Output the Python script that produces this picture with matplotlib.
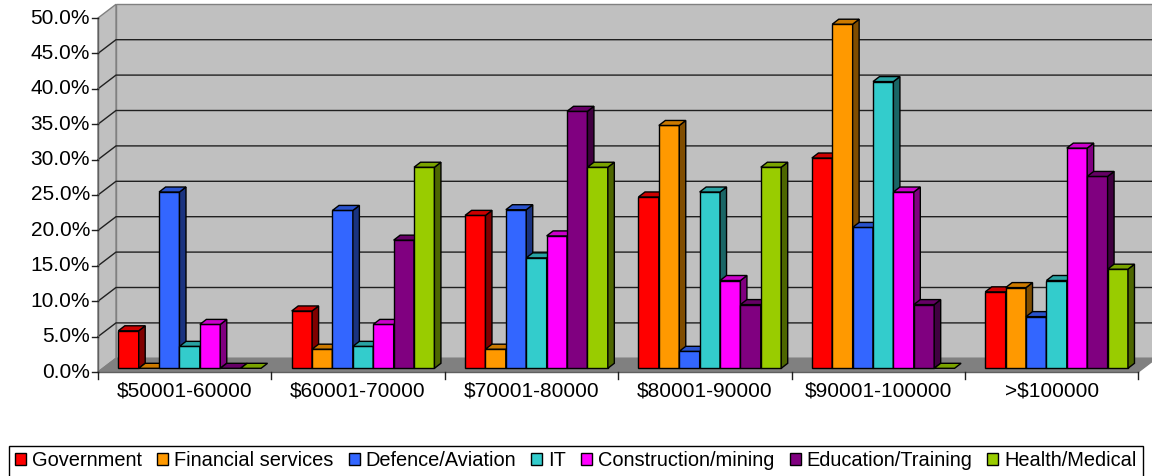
import numpy as np
import matplotlib.pyplot as plt
from matplotlib.patches import Polygon, Patch
from matplotlib.colors import to_rgb

plt.rcParams['font.family'] = ['Liberation Sans', 'DejaVu Sans']

# salary bands and share of respondents per sector (%)
bands = ['$50001-60000', '$60001-70000', '$70001-80000', '$80001-90000',
         '$90001-100000', '>$100000']
sectors = ['Government', 'Financial services', 'Defence/Aviation', 'IT',
           'Construction/mining', 'Education/Training', 'Health/Medical']

government = [5.3, 8.1, 21.6, 24.2, 29.7, 10.8]
financial = [0.0, 2.7, 2.7, 34.3, 48.6, 11.4]
defence = [24.9, 22.3, 22.4, 2.4, 19.9, 7.3]
it = [3.1, 3.1, 15.6, 24.9, 40.5, 12.4]
construction = [6.2, 6.2, 18.7, 12.4, 24.9, 31.1]
education = [0.0, 18.1, 36.3, 9.0, 9.0, 27.1]
health = [0.0, 28.4, 28.4, 28.4, 0.0, 14.0]

series = [government, financial, defence, it, construction, education, health]
colors = ['#FF0000', '#FF9900', '#3366FF', '#33CCCC', '#FF00FF', '#800080', '#99CC00']

W, H = 1152, 476
fig = plt.figure(figsize=(W / 100, H / 100), dpi=100)
# front plane of the plot box, in pixels
x0, x1, ybot, ytop = 98, 1138.3, 372, 18
ax = fig.add_axes([x0 / W, (H - ybot) / H, (x1 - x0) / W, (ybot - ytop) / H])
ax.set_xlim(0, 6)
ax.set_ylim(0, 50)
ax.axis('off')

px_x = (x1 - x0) / 6.0     # pixels per category
px_y = (ybot - ytop) / 50  # pixels per percent


def off(dx, dy):
    return dx / px_x, dy / px_y


bx, by = off(18, 13.7)      # back wall depth
fx, fy = off(5, 3.7)        # bar front face depth
dx, dy = off(6.5, 5)        # bar thickness

# walls and floor
ax.add_patch(Polygon([(bx, by), (6 + bx, by), (6 + bx, 50 + by), (bx, 50 + by)],
                     closed=True, fc='#C0C0C0', ec='#808080', lw=1, clip_on=False, zorder=0))
ax.add_patch(Polygon([(0, 0), (bx, by), (bx, 50 + by), (0, 50)],
                     closed=True, fc='#C0C0C0', ec='#808080', lw=1, clip_on=False, zorder=0))
ax.add_patch(Polygon([(0, 0), (6, 0), (6 + bx, by), (bx, by)],
                     closed=True, fc='#808080', ec='#808080', lw=1, clip_on=False, zorder=0.5))

yticks = np.arange(0, 51, 5)
for v in yticks[1:-1]:
    ax.plot([0, bx, 6 + bx], [v, v + by, v + by], color='#202020', lw=1,
            clip_on=False, zorder=0.2)

# axis lines, ticks and labels
ax.plot([0, 0], [0, 50], color='#606060', lw=1, clip_on=False, zorder=1)
ax.plot([0, 6], [0, 0], color='#606060', lw=1, clip_on=False, zorder=1)
for v in yticks:
    ax.plot([-6 / px_x, 0], [v, v], color='#202020', lw=1, clip_on=False, zorder=1)
    ax.text(-8 / px_x, v, f'{v:.1f}%', ha='right', va='center', fontsize=15)
for k in range(7):
    ax.plot([k, k], [0, -7 / px_y], color='#202020', lw=1, clip_on=False, zorder=1)
for i, b in enumerate(bands):
    ax.text(i + 0.5, -10 / px_y, b, ha='center', va='top', fontsize=15)

# 3D columns
n = len(series)
bw = 0.1176
start = 0.5 - n * bw / 2
z = 2
for i in range(len(bands)):
    for j, (vals, c) in enumerate(zip(series, colors)):
        v = vals[i]
        xl = i + start + j * bw + fx
        xr = xl + bw
        base = np.array(to_rgb(c))
        top_c = base * 0.8
        side_c = base * 0.5
        if v > 0:
            ax.bar(xl, v, width=bw, bottom=fy, align='edge', color=c,
                   edgecolor='black', lw=1, zorder=z, clip_on=False)
            ax.add_patch(Polygon([(xr, fy), (xr, fy + v), (xr + dx, fy + v + dy), (xr + dx, fy + dy)],
                                 closed=True, fc=side_c, ec='black', lw=1, zorder=z, clip_on=False))
        ax.add_patch(Polygon([(xl, fy + v), (xr, fy + v), (xr + dx, fy + v + dy), (xl + dx, fy + v + dy)],
                             closed=True, fc=top_c, ec='black', lw=1, zorder=z, clip_on=False))
        z += 0.01

handles = [Patch(facecolor=c, edgecolor='black', lw=1) for c in colors]
leg = fig.legend(handles, sectors, loc='center', ncol=7,
                 bbox_to_anchor=(576 / W, (H - 461) / H), fontsize=14.4,
                 handlelength=0.55, handleheight=0.55, handletextpad=0.3,
                 columnspacing=0.75, borderpad=0.3, borderaxespad=0,
                 fancybox=False, framealpha=1)
leg.get_frame().set_edgecolor('black')
leg.get_frame().set_linewidth(1)

fig.savefig('out.png', dpi=100)
